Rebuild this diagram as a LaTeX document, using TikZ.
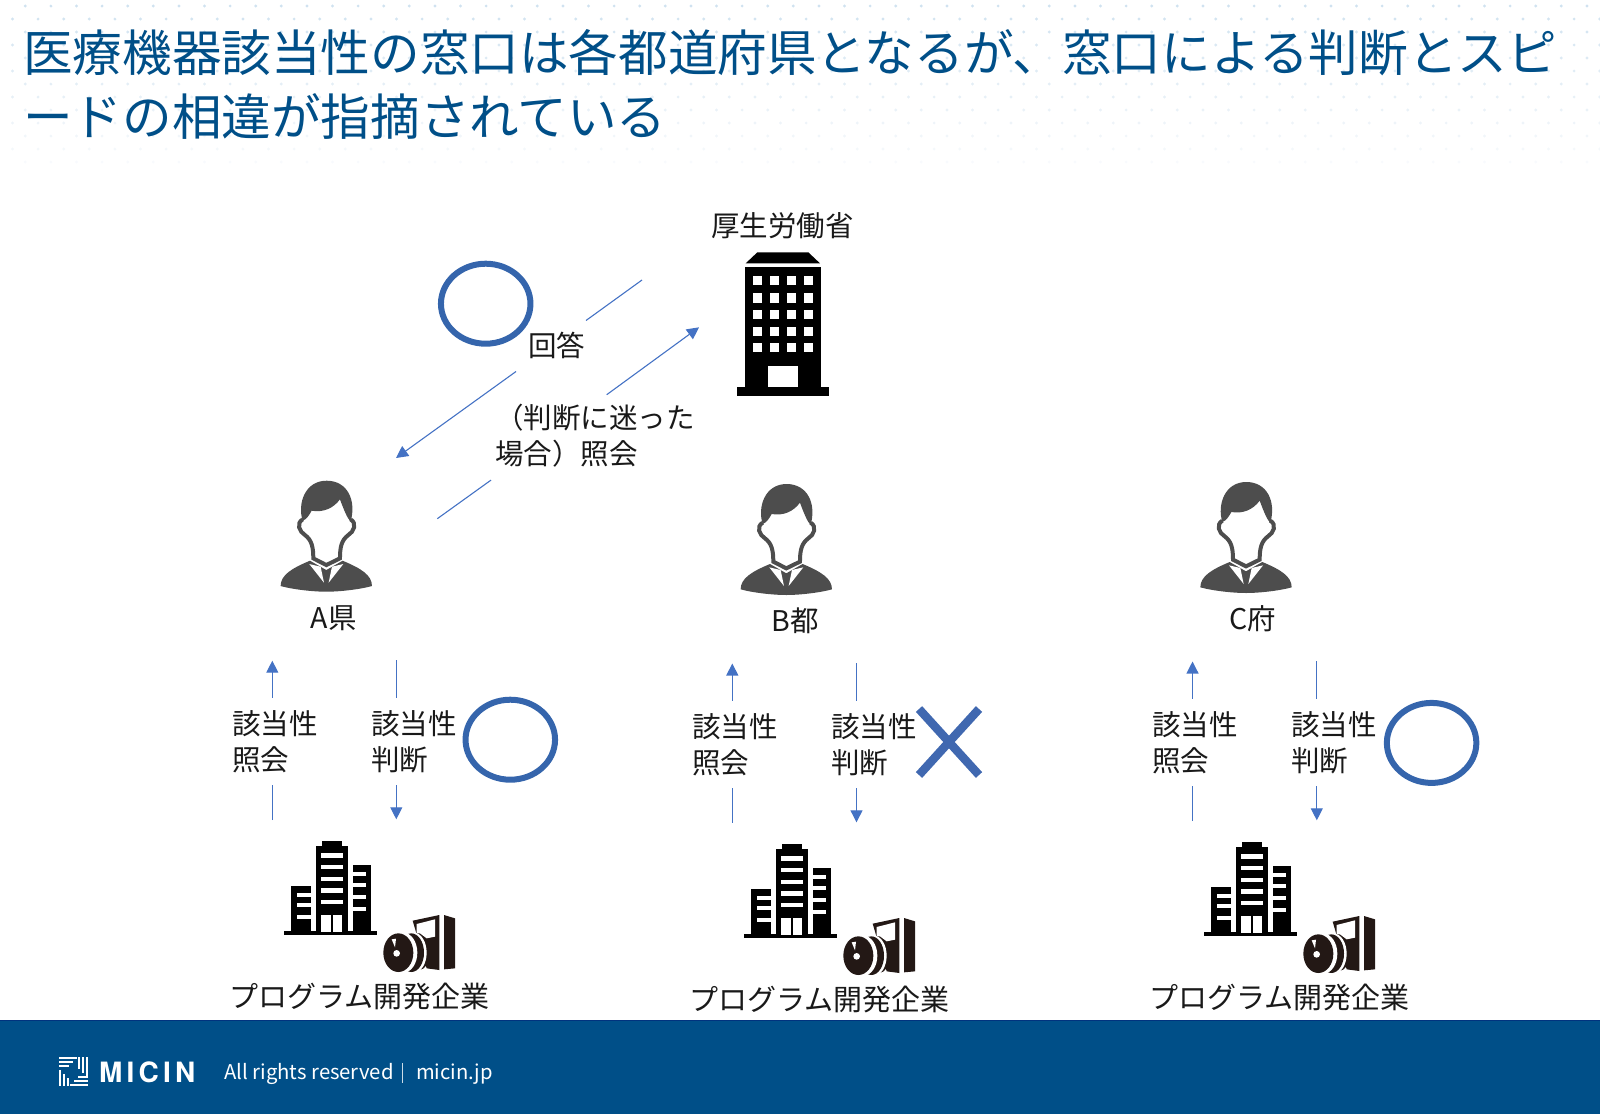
\documentclass[tikz,border=0pt]{standalone}
\usepackage{fontspec}
\setmainfont{Noto Sans CJK JP}
\newfontfamily\logofont[LetterSpace=15]{TeX Gyre Heros}
\usetikzlibrary{shapes.geometric,arrows.meta,positioning}

\definecolor{micinblue}{HTML}{004F88}
\definecolor{edgeblue}{HTML}{00337F}
\definecolor{flowblue}{HTML}{4472C4}
\definecolor{ringblue}{HTML}{3565AC}
\definecolor{crossblue}{HTML}{4068B0}
\definecolor{mangrey}{HTML}{4D4D4D}
\definecolor{inkblack}{HTML}{231815}
\definecolor{dotblue}{HTML}{D0E2F0}

\tikzset{
  lbl/.style={inner sep=0pt, outer sep=0pt, align=left, text=black!90, font=\fontsize{28.5}{36}\selectfont},
  devlbl/.style={lbl, font=\fontsize{29}{36}\selectfont},
  flow/.style={draw=flowblue, line width=1.1pt},
  flowtip/.style={flow, -{Triangle[length=12pt,width=12pt]}},
  ring/.style={draw=ringblue, line width=6pt, ellipse, inner sep=0pt, outer sep=0pt, minimum width=89.5pt, minimum height=80pt},
  judge/.style={lbl, text width=86pt, minimum height=87.7pt},
  pics/person/.style={code={
    \begin{scope}[scale=1/3, shift={(-199,-227)}]
      \fill[mangrey] (62,378) .. controls (62,345) and (95,325) .. (150,302) -- (199,330) -- (248,302) .. controls (303,325) and (336,345) .. (336,378) .. controls (300,388) and (240,395) .. (199,395) .. controls (158,395) and (98,388) .. (62,378) -- cycle;
      \fill[white] (148,312) -- (182,320) -- (192,368) -- cycle;
      \fill[white] (250,312) -- (216,320) -- (206,368) -- cycle;
      \fill[white] (128,120) rectangle (272,225);
      \draw[mangrey, line width=4pt, fill=white] (128,178) .. controls (108,190) and (118,215) .. (135,225) .. controls (155,240) and (160,260) .. (160,295) -- (199,315) -- (240,295) .. controls (240,260) and (245,240) .. (265,225) .. controls (282,215) and (292,190) .. (272,178);
      \fill[mangrey] (128,182) .. controls (112,130) and (135,62) .. (200,62) .. controls (262,62) and (290,120) .. (272,185) .. controls (262,175) and (252,150) .. (240,118) .. controls (220,145) and (190,158) .. (155,152) .. controls (148,165) and (140,178) .. (128,182) -- cycle;
    \end{scope}
  }},
  pics/ministry/.style={code={
    \begin{scope}[scale=1/3, shift={(-309,-402)}]
      \fill[black] (197,220) -- (232,187) -- (385,187) -- (420,220) -- cycle;
      \fill[black] (195,232) rectangle (423,590);
      \fill[black] (170,590) rectangle (447,617);
      \foreach \wx in {218,269,320,372}
        \foreach \wy in {258,310,360,410,458}
          \fill[white] (\wx,\wy) rectangle ++(28,28);
      \fill[white] (265,527) rectangle (355,590);
    \end{scope}
  }},
  pics/company/.style={code={
    \begin{scope}[scale=1/3]
      \fill[black] (72,347) rectangle (352,360);
      \fill[black] (167,92) rectangle (265,350);
      \fill[black] (185,78) rectangle (245,92);
      \fill[black] (278,150) rectangle (333,350);
      \fill[black] (92,212) rectangle (152,350);
      \foreach \wy in {115,150,185,220,254}
        \fill[white] (183,\wy) rectangle ++(65,13);
      \fill[white] (183,300) rectangle (212,350);
      \fill[white] (218,300) rectangle (247,350);
      \foreach \wy in {170,205,240,275}
        \fill[white] (278,\wy) rectangle ++(39,12);
      \foreach \wy in {235,265,300}
        \fill[white] (110,\wy) rectangle ++(42,11);
      \begin{scope}[shift={(330,255)}]
        \fill[inkblack] (222,45) -- (255,55) -- (255,205) -- (222,208) -- cycle;
        \fill[inkblack] (128,62) -- (208,45) -- (208,210) -- (170,205) -- cycle;
        \fill[white] (140,72) -- (195,58) -- (195,110) -- (170,115) -- (150,100) -- (140,100) -- cycle;
        \fill[inkblack] (148,158) ellipse [x radius=30, y radius=52];
        \fill[white] (132,158) ellipse [x radius=38, y radius=60];
        \fill[inkblack] (124,158) ellipse [x radius=38, y radius=58];
        \fill[white] (100,158) ellipse [x radius=42, y radius=60];
        \fill[inkblack] (85,158) ellipse [x radius=45, y radius=58];
        \fill[white] (80,160) circle [radius=10];
        \fill[white] (65,118) -- (78,116) -- (75,142) -- cycle;
      \end{scope}
    \end{scope}
  }}
}

\begin{document}
\begin{tikzpicture}[x=1pt, y=-1pt]
    \useasboundingbox (0,0) rectangle (1600,1114);
    \foreach \row in {0,...,12}
      \foreach \col in {0,...,62} {
        \pgfmathsetmacro\dotx{12.5+25.6*\col+12.8*mod(\row+1,2)}
        \pgfmathtruncatemacro\fade{100-7*\row}
        \fill[dotblue!\fade] (\dotx,6+13*\row) circle [radius=1.6];
      }

    \node [anchor=west, inner sep=0pt, align=left, text=micinblue, font=\fontsize{49.6}{64}\selectfont] (title) at (23,84) {医療機器該当性の窓口は各都道府県となるが、窓口による判断とスピ\\ードの相違が指摘されている};

    \node [lbl] (mhlw) at (782.5,226) {厚生労働省};
    \pic at (783,324) {ministry};

    % answer and inquiry between A and the ministry
    \coordinate (ansFrom) at (642,280);
    \coordinate (ansTo) at (396,458);
    \coordinate (askFrom) at (437.3,518.7);
    \coordinate (askTo) at (699,327.3);
    \node [lbl, text width=68pt, inner xsep=1pt, minimum height=51pt, align=right] (ansLabel) at (551,346) {\raisebox{3pt}{回答}};
    \node [lbl, text width=200pt, inner xsep=4pt, minimum height=81.4pt] (askLabel) at (595,435.4) {（判断に迷った\\場合）照会};
    \draw [flow] (ansFrom) -- (ansLabel.north east);
    \draw [flowtip] (ansLabel.south west) -- (ansTo);
    \draw [flow] (askFrom) -- ([yshift=-4pt]askLabel.south west);
    \draw [flowtip] ([xshift=11.7pt]askLabel.north) -- (askTo);
    \node [ring] (ringTop) at (485.7,303.7) {};

    % column A
    \pic at (326.3,535.7) {person};
    \node [lbl] (prefA) at (333.7,618) {A県};
    \node [judge] (qA) at (275,741.6) {該当性\\照会};
    \node [judge, right=53.2pt of qA] (jA) {該当性\\判断};
    \node [ring] (ringA) at (510.3,739.7) {};
    \coordinate (qAtip) at (272.3,660.7);
    \coordinate (qAfoot) at (272.3,820);
    \coordinate (jAtop) at (396.3,660);
    \coordinate (jAtip) at (396.3,819.3);
    \draw [flow] (qAfoot) -- (qAfoot |- qA.south);
    \draw [flowtip] (qAtip |- qA.north) -- (qAtip);
    \draw [flow] (jAtop) -- (jAtop |- jA.north);
    \draw [flowtip] (jAtip |- jA.south) -- (jAtip);
    \pic at (260,815) {company};
    \node [devlbl] (devA) at (359.4,996) {プログラム開発企業};

    % column B
    \pic at (786.3,539) {person};
    \node [lbl] (prefB) at (794.9,620.4) {B都};
    \node [judge] (qB) at (735,744.6) {該当性\\照会};
    \node [judge, right=53.2pt of qB] (jB) {該当性\\判断};
    \coordinate (qBtip) at (732.3,663.5);
    \coordinate (qBfoot) at (732.3,822.5);
    \coordinate (jBtop) at (856.5,663);
    \coordinate (jBtip) at (856.5,822.3);
    \draw [flow] (qBfoot) -- (qBfoot |- qB.south);
    \draw [flowtip] (qBtip |- qB.north) -- (qBtip);
    \draw [flow] (jBtop) -- (jBtop |- jB.north);
    \draw [flowtip] (jBtip |- jB.south) -- (jBtip);
    \coordinate (crossC) at (949,742);
    \draw [crossblue, line width=8.5pt] (919,709) -- (crossC) -- (979,775);
    \draw [crossblue, line width=8.5pt] (979,709) -- (crossC) -- (919,775);
    \pic at (720,818) {company};
    \node [devlbl] (devB) at (819.4,999) {プログラム開発企業};

    % column C
    \pic at (1246,537) {person};
    \node [lbl] (prefC) at (1253,618.4) {C府};
    \node [judge] (qC) at (1195,742.6) {該当性\\照会};
    \node [judge, right=53.2pt of qC] (jC) {該当性\\判断};
    \node [ring] (ringC) at (1431.6,742.9) {};
    \coordinate (qCtip) at (1192.5,661.5);
    \coordinate (qCfoot) at (1192.5,821);
    \coordinate (jCtop) at (1316.8,661);
    \coordinate (jCtip) at (1316.8,820.3);
    \draw [flow] (qCfoot) -- (qCfoot |- qC.south);
    \draw [flowtip] (qCtip |- qC.north) -- (qCtip);
    \draw [flow] (jCtop) -- (jCtop |- jC.north);
    \draw [flowtip] (jCtip |- jC.south) -- (jCtip);
    \pic at (1180,816) {company};
    \node [devlbl] (devC) at (1279.4,997) {プログラム開発企業};

    % footer band
    \fill [micinblue] (0,1020) rectangle (1600,1114);
    \draw [edgeblue, line width=1pt] (0,1020.5) -- (1600,1020.5);
    \foreach \k in {0,1,2} {
      \draw [white, line width=1.9pt] (59,1058+4*\k) -- (77-4*\k,1058+4*\k);
      \draw [white, line width=1.9pt] (87.4-4*\k,1057) -- (87.4-4*\k,1077-4*\k);
      \draw [white, line width=1.9pt] (88,1085-4*\k) -- (70+4*\k,1085-4*\k);
      \draw [white, line width=1.9pt] (60+4*\k,1086) -- (60+4*\k,1070+4*\k);
    }
    \node [anchor=west, inner sep=0pt, text=white, font=\logofont\fontseries{b}\fontsize{28}{32}\selectfont] (brand) at (99,1072) {MICIN};
    \node [anchor=west, inner sep=0pt, text=white, font=\fontsize{20.3}{26}\selectfont] (rights) at (224,1074) {All rights reserved};
    \node [anchor=west, inner sep=0pt, text=white, font=\fontsize{20.2}{26}\selectfont] (site) at (416,1074) {micin.jp};
    \draw [white!80!micinblue, line width=1pt] (402,1063) -- (402,1083);
\end{tikzpicture}
\end{document}
